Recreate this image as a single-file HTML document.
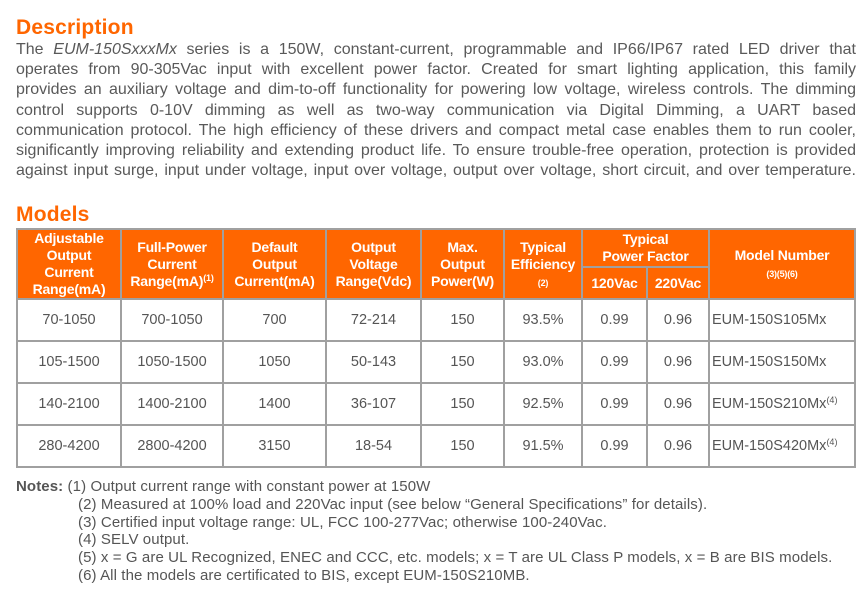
<!DOCTYPE html>
<html><head><meta charset="utf-8"><style>
body{margin:0;width:866px;height:599px;background:#fff;font-family:"Liberation Sans",Arial,sans-serif;color:#595959;position:relative;overflow:hidden}
h2{position:absolute;left:16px;margin:0;color:#ff6600;font-size:21px;font-weight:bold;letter-spacing:0.2px}
.desc{position:absolute;left:16px;top:40px;width:840px;font-size:16px;line-height:20.2px}
.desc div{text-align:justify;text-align-last:justify;white-space:nowrap}
table{position:absolute;left:16px;top:228px;border-collapse:collapse;table-layout:fixed}
td,th{border:2px solid #a0a0a0;padding:0;text-align:center;font-size:14.5px}
th{background:#ff6600;color:#fff;font-family:"Liberation Sans Narrow","Liberation Sans",sans-serif;font-weight:bold;font-size:14px;letter-spacing:-0.2px;line-height:17px;white-space:nowrap;overflow:hidden}
td{height:40px;color:#555}
sup{font-size:9px;vertical-align:5px;line-height:0}
.m{text-align:left;padding-left:2px}
.notes{position:absolute;left:16px;top:478px;font-size:15px;line-height:17.8px;color:#555;letter-spacing:0.1px}
.notes div{padding-left:62px}
.notes div.f{padding-left:0}
</style></head><body>
<h2 style="top:16px">Description</h2>
<div class="desc">
<div>The <i>EUM-150SxxxMx</i> series is a 150W, constant-current, programmable and IP66/IP67 rated LED driver that</div>
<div>operates from 90-305Vac input with excellent power factor. Created for smart lighting application, this family</div>
<div>provides an auxiliary voltage and dim-to-off functionality for powering low voltage, wireless controls. The dimming</div>
<div>control supports 0-10V dimming as well as two-way communication via Digital Dimming, a UART based</div>
<div>communication protocol. The high efficiency of these drivers and compact metal case enables them to run cooler,</div>
<div>significantly improving reliability and extending product life. To ensure trouble-free operation, protection is provided</div>
<div>against input surge, input under voltage, input over voltage, output over voltage, short circuit, and over temperature.</div>
</div>
<h2 style="top:203px">Models</h2>
<table>
<colgroup><col style="width:104px"><col style="width:102px"><col style="width:103px"><col style="width:95px"><col style="width:83px"><col style="width:78px"><col style="width:65px"><col style="width:62px"><col style="width:146px"></colgroup>
<tr style="height:38px"><th rowspan="2">Adjustable<br>Output<br>Current<br>Range(mA)</th><th rowspan="2">Full-Power<br>Current<br>Range(mA)<sup>(1)</sup></th><th rowspan="2">Default<br>Output<br>Current(mA)</th><th rowspan="2">Output<br>Voltage<br>Range(Vdc)</th><th rowspan="2">Max.<br>Output<br>Power(W)</th><th rowspan="2">Typical<br>Efficiency<br><sup style="vertical-align:0">(2)</sup></th><th colspan="2">Typical<br>Power Factor</th><th rowspan="2">Model Number<br><sup style="vertical-align:0">(3)(5)(6)</sup></th></tr>
<tr style="height:32px"><th>120Vac</th><th>220Vac</th></tr>
<tr><td>70-1050</td><td>700-1050</td><td>700</td><td>72-214</td><td>150</td><td>93.5%</td><td>0.99</td><td>0.96</td><td class="m">EUM-150S105Mx</td></tr>
<tr><td>105-1500</td><td>1050-1500</td><td>1050</td><td>50-143</td><td>150</td><td>93.0%</td><td>0.99</td><td>0.96</td><td class="m">EUM-150S150Mx</td></tr>
<tr><td>140-2100</td><td>1400-2100</td><td>1400</td><td>36-107</td><td>150</td><td>92.5%</td><td>0.99</td><td>0.96</td><td class="m">EUM-150S210Mx<sup>(4)</sup></td></tr>
<tr><td>280-4200</td><td>2800-4200</td><td>3150</td><td>18-54</td><td>150</td><td>91.5%</td><td>0.99</td><td>0.96</td><td class="m">EUM-150S420Mx<sup>(4)</sup></td></tr>
</table>
<div class="notes">
<div class="f"><b>Notes:</b> (1) Output current range with constant power at 150W</div>
<div>(2) Measured at 100% load and 220Vac input (see below “General Specifications” for details).</div>
<div>(3) Certified input voltage range: UL, FCC 100-277Vac; otherwise 100-240Vac.</div>
<div>(4) SELV output.</div>
<div>(5) x = G are UL Recognized, ENEC and CCC, etc. models; x = T are UL Class P models, x = B are BIS models.</div>
<div>(6) All the models are certificated to BIS, except EUM-150S210MB.</div>
</div>
</body></html>
